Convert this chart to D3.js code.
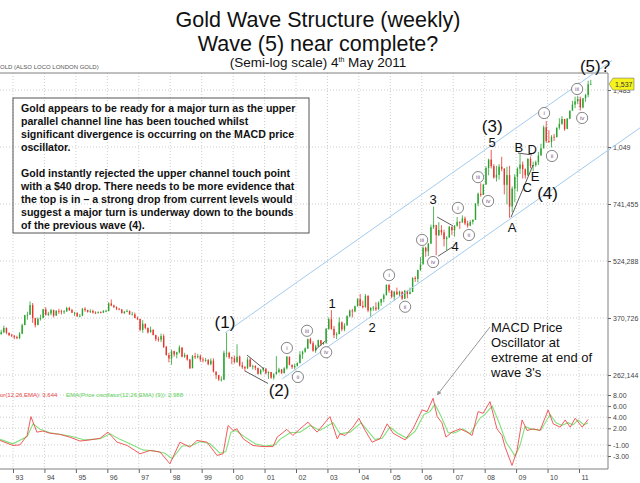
<!DOCTYPE html>
<html>
<head>
<meta charset="utf-8">
<script src="https://cdn.jsdelivr.net/npm/d3@7"></script>
<style>
  body { margin: 0; background: #fff; }
  svg { display: block; }
  text { font-family: "Liberation Sans", Arial, sans-serif; }
</style>
</head>
<body>
<svg id="chart" width="640" height="483"></svg>
<script>
// monthly gold bars, first one is Aug 1992 (month index 7), last one is the first week of May 2011
const firstYear = 1992, firstMonth = 7;
const firstOpen = 336;

const closes = [
  /*1992*/ 340, 349, 339, 334, 333,
  /*1993*/ 330, 328, 337, 355, 377, 378, 401, 371, 355, 369, 371, 391,
  /*1994*/ 378, 381, 389, 376, 387, 386, 384, 386, 394, 389, 383, 383,
  /*1995*/ 375, 376, 392, 389, 385, 387, 383, 382, 384, 383, 387, 387,
  /*1996*/ 405, 400, 396, 392, 391, 382, 385, 387, 379, 379, 371, 369,
  /*1997*/ 345, 358, 349, 340, 345, 334, 326, 325, 332, 311, 296, 290,
  /*1998*/ 303, 297, 301, 310, 293, 296, 288, 273, 294, 292, 294, 288,
  /*1999*/ 287, 287, 280, 286, 268, 262, 255, 255, 300, 300, 292, 290,
  /*2000*/ 284, 293, 278, 275, 273, 288, 276, 277, 274, 264, 270, 273,
  /*2001*/ 265, 267, 258, 263, 267, 271, 265, 273, 293, 279, 275, 277,
  /*2002*/ 282, 297, 302, 308, 326, 318, 304, 312, 324, 317, 319, 347,
  /*2003*/ 368, 347, 334, 336, 361, 346, 354, 375, 388, 386, 398, 416,
  /*2004*/ 399, 396, 424, 388, 394, 395, 391, 407, 416, 426, 453, 438,
  /*2005*/ 422, 435, 428, 435, 417, 437, 429, 434, 473, 470, 496, 513,
  /*2006*/ 568, 556, 582, 644, 653, 613, 633, 624, 599, 604, 646, 632,
  /*2007*/ 650, 665, 662, 679, 659, 650, 665, 673, 743, 789, 783, 834,
  /*2008*/ 923, 971, 933, 871, 885, 930, 918, 833, 884, 730, 814, 875,
  /*2009*/ 919, 942, 916, 883, 975, 934, 939, 956, 996, 1040, 1182, 1087,
  /*2010*/ 1081, 1116, 1113, 1179, 1207, 1244, 1169, 1246, 1307, 1357, 1384, 1405,
  /*2011*/ 1333, 1410, 1439, 1535, 1537
];
const highs = [
  /*1992*/ 345, 354, 350, 339, 337,
  /*1993*/ 334, 333, 340, 358, 378, 385, 410, 406, 370, 372, 378, 392,
  /*1994*/ 396, 385, 392, 390, 389, 392, 390, 389, 397, 397, 392, 385,
  /*1995*/ 383, 380, 394, 396, 390, 391, 390, 386, 386, 386, 389, 390,
  /*1996*/ 408, 415, 402, 398, 394, 390, 387, 391, 388, 385, 383, 374,
  /*1997*/ 368, 366, 358, 350, 352, 346, 335, 331, 337, 336, 313, 300,
  /*1998*/ 306, 304, 302, 314, 310, 300, 297, 289, 296, 300, 298, 297,
  /*1999*/ 292, 291, 289, 290, 290, 266, 262, 260, 304, 339, 302, 293,
  /*2000*/ 295, 316, 295, 284, 277, 292, 291, 279, 278, 273, 272, 275,
  /*2001*/ 272, 268, 267, 265, 294, 274, 272, 275, 294, 293, 279, 281,
  /*2002*/ 283, 303, 304, 310, 327, 329, 322, 315, 325, 324, 320, 349,
  /*2003*/ 372, 389, 353, 340, 372, 363, 359, 377, 390, 392, 400, 418,
  /*2004*/ 429, 412, 429, 426, 396, 399, 408, 410, 417, 430, 455, 456,
  /*2005*/ 438, 437, 446, 438, 436, 440, 439, 446, 475, 478, 497, 537,
  /*2006*/ 573, 572, 585, 654, 730, 641, 664, 652, 634, 610, 648, 646,
  /*2007*/ 652, 685, 667, 692, 687, 670, 672, 676, 745, 795, 841, 838,
  /*2008*/ 933, 976, 1030, 945, 935, 945, 988, 923, 930, 935, 825, 889,
  /*2009*/ 927, 1005, 960, 920, 980, 990, 960, 965, 1018, 1070, 1195, 1227,
  /*2010*/ 1161, 1127, 1135, 1181, 1249, 1265, 1240, 1250, 1310, 1388, 1424, 1432,
  /*2011*/ 1424, 1413, 1448, 1569, 1577
];
const lows = [
  /*1992*/ 335, 338, 336, 332, 330,
  /*1993*/ 326, 326, 326, 336, 355, 367, 378, 360, 350, 355, 365, 370,
  /*1994*/ 376, 375, 377, 372, 376, 380, 379, 380, 385, 387, 382, 375,
  /*1995*/ 373, 372, 375, 385, 383, 382, 381, 380, 381, 381, 382, 384,
  /*1996*/ 386, 398, 394, 389, 389, 381, 380, 384, 378, 377, 370, 366,
  /*1997*/ 342, 339, 346, 337, 339, 334, 322, 321, 320, 309, 295, 283,
  /*1998*/ 279, 293, 290, 299, 292, 291, 286, 272, 274, 289, 290, 284,
  /*1999*/ 283, 284, 278, 278, 266, 256, 253, 252, 254, 292, 289, 280,
  /*2000*/ 281, 282, 276, 272, 268, 272, 275, 271, 270, 263, 263, 267,
  /*2001*/ 263, 256, 256, 255, 264, 265, 264, 265, 271, 278, 272, 271,
  /*2002*/ 276, 281, 289, 300, 307, 316, 302, 300, 311, 313, 315, 317,
  /*2003*/ 345, 345, 328, 326, 336, 342, 342, 355, 372, 372, 384, 398,
  /*2004*/ 398, 393, 395, 384, 372, 387, 387, 390, 399, 408, 425, 432,
  /*2005*/ 418, 412, 426, 422, 414, 416, 418, 428, 435, 462, 460, 494,
  /*2006*/ 517, 538, 540, 584, 637, 543, 610, 613, 573, 560, 606, 614,
  /*2007*/ 608, 646, 637, 664, 652, 642, 648, 655, 674, 731, 775, 784,
  /*2008*/ 834, 883, 920, 865, 850, 860, 905, 786, 740, 681, 705, 750,
  /*2009*/ 800, 890, 866, 865, 880, 921, 905, 930, 940, 995, 1040, 1075,
  /*2010*/ 1075, 1045, 1088, 1111, 1165, 1200, 1157, 1176, 1242, 1316, 1328, 1360,
  /*2011*/ 1309, 1327, 1380, 1418, 1530
];

// price oscillator (12,26,EMA) and its 9-period EMA as [year, value]
const oscLine = [
  [1992.59,-0.2],[1993.0,-1.1],[1993.22,-1.0],[1993.45,0.7],[1993.57,4.1],[1993.76,1.3],[1993.95,1.5],
  [1994.18,1.1],[1994.49,0.9],[1994.81,0.4],[1995.13,-0.3],[1995.45,-0.1],[1995.77,0.2],[1996.02,1.3],
  [1996.31,-0.5],[1996.63,-1.1],[1997.04,-2.6],[1997.36,-2.0],[1997.68,-2.3],[1997.99,-4.4],[1998.31,-0.5],
  [1998.63,-1.4],[1998.85,-0.2],[1999.17,-0.5],[1999.49,-2.9],[1999.68,-2.6],[1999.84,2.5],[2000.0,1.6],
  [2000.12,1.9],[2000.32,0.1],[2000.63,-1.1],[2000.95,-1.3],[2001.27,-1.3],[2001.4,0.4],[2001.71,1.8],
  [2001.9,0.7],[2002.13,1.9],[2002.38,3.1],[2002.67,1.3],[2003.08,4.1],[2003.31,0.1],[2003.4,1.0],
  [2003.56,0.7],[2003.81,2.2],[2004.0,3.8],[2004.2,1.6],[2004.42,-0.5],[2004.67,0.1],[2004.9,2.8],
  [2005.09,1.1],[2005.31,0.4],[2005.47,-0.1],[2005.72,1.9],[2006.01,5.3],[2006.17,5.0],[2006.36,7.4],
  [2006.49,4.1],[2006.64,3.0],[2006.77,0.4],[2006.96,1.3],[2007.22,1.9],[2007.44,1.3],[2007.6,0.7],
  [2007.79,5.0],[2007.95,4.7],[2008.17,6.8],[2008.39,1.9],[2008.55,0.7],[2008.65,-1.4],[2008.87,-4.7],
  [2009.03,-2.0],[2009.19,3.5],[2009.35,1.6],[2009.54,1.9],[2009.76,1.6],[2010.02,5.3],[2010.18,2.8],
  [2010.4,2.2],[2010.56,3.5],[2010.72,2.2],[2010.88,3.8],[2011.1,2.2],[2011.29,3.6]
];
const signalLine = [
  [1992.59,0],[1993.0,-0.8],[1993.45,0.5],[1993.64,2.8],[1993.86,1.8],[1994.18,1.2],[1994.81,0.6],
  [1995.29,-0.1],[1995.77,0.1],[1996.09,1.0],[1996.4,0.0],[1996.72,-0.8],[1997.13,-1.9],[1997.52,-2.1],
  [1997.83,-2.5],[1998.06,-3.5],[1998.38,-1.2],[1998.69,-1.1],[1998.95,-0.4],[1999.27,-0.8],[1999.58,-2.5],
  [1999.77,-2.2],[1999.93,1.3],[2000.09,1.6],[2000.38,0.4],[2000.7,-0.8],[2001.02,-1.2],[2001.33,-1.0],
  [2001.49,0.0],[2001.81,1.2],[2002.13,1.3],[2002.45,2.5],[2002.76,1.6],[2003.18,3.0],[2003.4,1.0],
  [2003.72,1.3],[2004.07,3.0],[2004.29,1.5],[2004.51,0.0],[2004.74,0.2],[2004.99,2.2],[2005.21,1.2],
  [2005.53,0.2],[2005.79,1.5],[2006.07,4.5],[2006.26,5.0],[2006.42,6.3],[2006.61,4.2],[2006.84,1.2],
  [2007.06,1.2],[2007.31,1.9],[2007.54,1.0],[2007.85,3.8],[2008.01,4.5],[2008.24,6.0],[2008.46,3.0],
  [2008.68,-0.5],[2008.97,-3.0],[2009.13,-1.0],[2009.28,2.3],[2009.51,1.8],[2009.79,1.7],[2010.08,4.5],
  [2010.27,3.0],[2010.46,2.5],[2010.65,3.0],[2010.81,2.6],[2010.97,3.5],[2011.16,2.6],[2011.29,3.0]
];

const years = d3.range(1993, 2012);
const yearLabels = ['93','94','95','96','97','98','99','00','01','02','03','04','05','06','07','08','09','10','11'];
const priceTicks = [262.144, 370.726, 524.288, 741.455, 1048.576, 1482.910];
const priceTickLabels = ['262,144', '370,726', '524,288', '741,455', '1,049', '1,483'];
const oscTicks = [8, 6, 4, 2, -1, -3];
const oscTickLabels = ['8.00', '6.00', '4.00', '2.00', '-1.00', '-3.00'];

// Elliott wave annotations as [text, year, price]
const majorWaves = [['(1)', 1999.74, 362], ['(2)', 2001.46, 239], ['(3)', 2008.24, 1195], ['(4)', 2010.0, 795], ['(5)?', 2011.51, 1716]];
const minorWaves = [['1', 2003.15, 406], ['2', 2004.42, 351], ['3', 2006.36, 764], ['4', 2007.06, 574], ['5', 2008.24, 1078],
                    ['A', 2008.87, 645], ['B', 2009.09, 1049], ['C', 2009.35, 822], ['D', 2009.51, 1036], ['E', 2009.6, 875]];
const subWaves = [['i', 2001.71, 309], ['ii', 2002.06, 259], ['iii', 2002.35, 343], ['iv', 2002.96, 301],
                  ['i', 2004.96, 481], ['ii', 2005.47, 397], ['iii', 2006.01, 596], ['iv', 2006.36, 521],
                  ['i', 2007.15, 724], ['ii', 2007.5, 614], ['iii', 2007.79, 873], ['iv', 2008.11, 755],
                  ['i', 2009.89, 1289], ['ii', 2010.14, 993], ['iii', 2010.94, 1492], ['iv', 2011.1, 1251]];
const channels = [[[1999.75, 339], [2012.05, 1774]], [[2001.56, 256], [2012.94, 1178]]];
const waveLines = [
  [[2000.44, 296], [2000.98, 272]], [[2000.38, 268.5], [2001.11, 249]],
  [[2002.61, 305], [2002.92, 322]],
  [[2006.49, 685], [2006.99, 649]], [[2006.52, 540], [2006.96, 570]],
  [[2008.84, 685], [2009.54, 940]], [[2009.06, 1011], [2009.51, 999]]
];

const noteLines = [
  'Gold appears to be ready for a major turn as the upper',
  'parallel channel line has been touched whilst',
  'significant divergence is occurring on the MACD price',
  'oscillator.',
  '',
  'Gold instantly rejected the upper channel touch point',
  'with a $40 drop. There needs to be more evidence that',
  'the top is in \u2013 a strong drop from current levels would',
  'suggest a major turn is underway down to the bounds',
  'of the previous wave (4).'
];
const macdNote = ['MACD Price', 'Oscillator at', 'extreme at end of', "wave 3's"];
const macdArrow = { from: [2008.17, 351], to: [2006.49, 8.0] };
const lastPrice = 1537;

const svg = d3.select('#chart');
const plot = { left: 0, right: 608, top: 73, bottom: 469 };

const x = d3.scaleLinear([1993, 2011], [13, 579]);
const y = d3.scaleLog([262.144, 1048.576], [375, 147]);
const yOsc = d3.scaleLinear([-3, 8], [456, 395]);

svg.append('defs').append('clipPath').attr('id', 'plotClip')
  .append('rect').attr('x', plot.left).attr('y', plot.top)
  .attr('width', plot.right - plot.left).attr('height', plot.bottom - plot.top);

/* titles */
const titles = svg.append('g').attr('text-anchor', 'middle').attr('fill', '#111');
titles.append('text').attr('x', 318).attr('y', 27).attr('font-size', 21.5).text('Gold Wave Structure (weekly)');
titles.append('text').attr('x', 318).attr('y', 51).attr('font-size', 21.5).text('Wave (5) near complete?');
const sub = titles.append('text').attr('x', 318).attr('y', 67).attr('font-size', 13.5);
sub.append('tspan').text('(Semi-log scale) 4');
sub.append('tspan').attr('font-size', 7).attr('dy', -5).text('th');
sub.append('tspan').attr('dy', 5).text(' May 2011');

svg.append('text').attr('x', 0).attr('y', 69).attr('font-size', 6).attr('fill', '#555')
  .text('OLD (ALSO LOCO LONDON GOLD)');

/* grid */
const grid = svg.append('g').attr('stroke', '#b8b8b8').attr('stroke-width', 0.7).attr('stroke-dasharray', '1,2');
grid.selectAll('.vg').data(years).join('line').attr('class', 'vg')
  .attr('x1', d => x(d)).attr('x2', d => x(d)).attr('y1', plot.top).attr('y2', plot.bottom);
grid.selectAll('.hg').data(priceTicks).join('line').attr('class', 'hg')
  .attr('x1', plot.left).attr('x2', plot.right).attr('y1', d => y(d)).attr('y2', d => y(d));
grid.selectAll('.og').data(oscTicks).join('line').attr('class', 'og')
  .attr('x1', plot.left).attr('x2', plot.right).attr('y1', d => yOsc(d)).attr('y2', d => yOsc(d));

/* frame + axes */
svg.append('path').attr('fill', 'none').attr('stroke', '#808080').attr('stroke-width', 1)
  .attr('d', `M${plot.left},${plot.top}H${plot.right}V${plot.bottom}H${plot.left}`);

function styleAxis(g) {
  g.select('.domain').remove();
  g.selectAll('line').attr('stroke', '#666');
  g.selectAll('text').attr('fill', '#444').attr('font-size', 7)
    .attr('font-family', '"DejaVu Sans", sans-serif');
}
svg.append('g').attr('transform', `translate(${plot.right},0)`)
  .call(d3.axisRight(y).tickValues(priceTicks).tickFormat((d, i) => priceTickLabels[i]).tickSize(3).tickPadding(2))
  .call(styleAxis);
svg.append('g').attr('transform', `translate(${plot.right},0)`)
  .call(d3.axisRight(yOsc).tickValues(oscTicks).tickFormat((d, i) => oscTickLabels[i]).tickSize(3).tickPadding(2))
  .call(styleAxis);
svg.append('g').attr('transform', `translate(0,${plot.bottom})`)
  .call(d3.axisBottom(x).tickValues(years).tickFormat((d, i) => yearLabels[i]).tickSize(4).tickPadding(2))
  .call(styleAxis)
  .call(g => g.selectAll('text').attr('text-anchor', 'start').attr('dx', 2));

/* candles */
const candles = closes.map((c, i) => ({
  t: firstYear + (firstMonth + i + 0.5) / 12,
  o: i ? closes[i - 1] : firstOpen,
  h: highs[i], l: lows[i], c
}));
const upCol = '#2aa32e', downCol = '#e8332b';
const cg = svg.append('g').attr('clip-path', 'url(#plotClip)');
cg.selectAll('.wick').data(candles).join('line').attr('class', 'wick')
  .attr('x1', d => x(d.t)).attr('x2', d => x(d.t))
  .attr('y1', d => y(d.h)).attr('y2', d => y(d.l))
  .attr('stroke', d => d.c >= d.o ? upCol : downCol).attr('stroke-width', 0.8);
cg.selectAll('.body').data(candles).join('rect').attr('class', 'body')
  .attr('x', d => x(d.t) - 0.7).attr('width', 1.4)
  .attr('y', d => y(Math.max(d.o, d.c)))
  .attr('height', d => Math.max(0.8, Math.abs(y(d.o) - y(d.c))))
  .attr('fill', d => d.c >= d.o ? upCol : downCol);

/* oscillator */
const oscPath = d3.line().x(d => x(d[0])).y(d => yOsc(d[1]));
cg.append('path').datum(signalLine).attr('d', oscPath)
  .attr('fill', 'none').attr('stroke', '#80e27c').attr('stroke-width', 1.1);
cg.append('path').datum(oscLine).attr('d', oscPath)
  .attr('fill', 'none').attr('stroke', '#f0484a').attr('stroke-width', 0.9);

svg.append('text').attr('x', 0).attr('y', yOsc(8) + 2).attr('font-size', 6)
  .attr('font-family', '"DejaVu Sans", sans-serif').attr('fill', '#e8484a')
  .text('or(12,26,EMA): 3.644');
svg.append('text').attr('x', 66).attr('y', yOsc(8) + 2).attr('font-size', 6)
  .attr('font-family', '"DejaVu Sans", sans-serif').attr('fill', '#5cd05a')
  .text('EMA(Price oscillator(12,26,EMA) (9)): 2.988');

/* channels and wave lines */
const pLine = d3.line().x(d => x(d[0])).y(d => y(d[1]));
svg.append('g').selectAll('path').data(channels).join('path')
  .attr('d', pLine).attr('fill', 'none').attr('stroke', '#a3cbee').attr('stroke-width', 1);
svg.append('g').selectAll('path').data(waveLines).join('path')
  .attr('d', pLine).attr('fill', 'none').attr('stroke', '#333').attr('stroke-width', 0.8);

/* last price tag */
const ly = y(lastPrice);
svg.append('path')
  .attr('d', `M${plot.right + 1},${ly}L${plot.right + 5},${ly - 6}H${plot.right + 26}V${ly + 6}H${plot.right + 5}Z`)
  .attr('fill', '#f6f21c').attr('stroke', '#777').attr('stroke-width', 0.6);
svg.append('text').attr('x', plot.right + 7).attr('y', ly + 2.5).attr('font-size', 7)
  .attr('font-family', '"DejaVu Sans", sans-serif').attr('fill', '#333').text('1,537');

/* wave labels */
svg.append('g').selectAll('text').data(majorWaves).join('text')
  .attr('x', d => x(d[1])).attr('y', d => y(d[2])).attr('dy', '0.36em')
  .attr('text-anchor', 'middle').attr('font-size', 17).attr('fill', '#111').text(d => d[0]);
svg.append('g').selectAll('text').data(minorWaves).join('text')
  .attr('x', d => x(d[1])).attr('y', d => y(d[2])).attr('dy', '0.36em')
  .attr('text-anchor', 'middle').attr('font-size', 13).attr('fill', '#111').text(d => d[0]);
const sw = svg.append('g').selectAll('g').data(subWaves).join('g')
  .attr('transform', d => `translate(${x(d[1])},${y(d[2])})`);
sw.append('circle').attr('r', 5.6).attr('fill', '#fff').attr('stroke', '#666').attr('stroke-width', 0.8);
sw.append('text').attr('text-anchor', 'middle').attr('dy', '0.35em').attr('font-size', 6)
  .attr('fill', '#7a4f8c').text(d => d[0]);

/* note box */
svg.append('rect').attr('x', 13).attr('y', 98).attr('width', 296).attr('height', 135)
  .attr('fill', 'none').attr('stroke', '#555').attr('stroke-width', 1);
svg.append('g').selectAll('text').data(noteLines).join('text')
  .attr('x', 21).attr('y', (d, i) => 111.5 + i * 13)
  .attr('font-size', 10.6).attr('font-weight', 'bold').attr('fill', '#111').text(d => d);

/* MACD comment and arrow */
const ax0 = x(macdArrow.from[0]), ay0 = y(macdArrow.from[1]);
const ax1 = x(macdArrow.to[0]), ay1 = yOsc(macdArrow.to[1]);
svg.append('defs').append('marker').attr('id', 'head').attr('viewBox', '0 0 10 10')
  .attr('refX', 9).attr('refY', 5).attr('markerWidth', 4.5).attr('markerHeight', 4.5)
  .attr('orient', 'auto').append('path').attr('d', 'M0,0L10,5L0,10Z').attr('fill', '#999');
svg.append('line').attr('x1', ax0).attr('y1', ay0).attr('x2', ax1).attr('y2', ay1)
  .attr('stroke', '#999').attr('stroke-width', 1).attr('marker-end', 'url(#head)');
svg.append('g').selectAll('text').data(macdNote).join('text')
  .attr('x', ax0 + 1).attr('y', (d, i) => ay0 + 5 + i * 15)
  .attr('font-size', 13).attr('fill', '#111').text(d => d);
</script>
</body>
</html>
